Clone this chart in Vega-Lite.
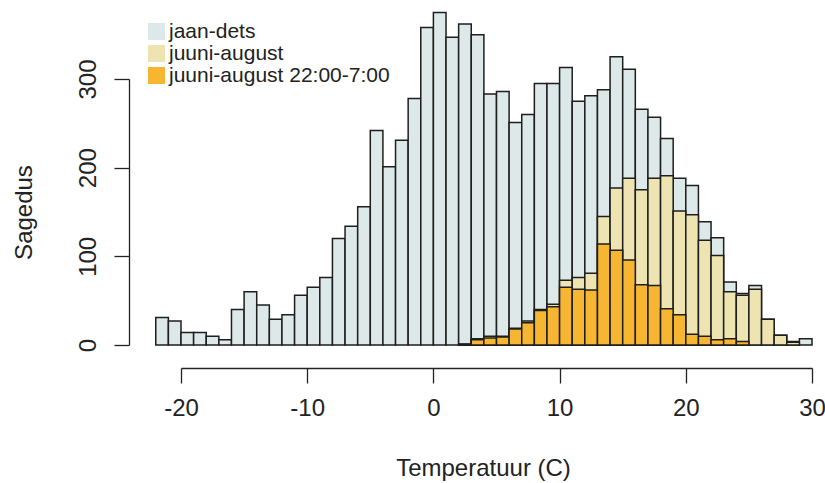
{
  "$schema": "https://vega.github.io/schema/vega-lite/v6.json",
  "width": 631,
  "height": 266,
  "autosize": "none",
  "padding": {"left": 181, "top": 79, "right": 13, "bottom": 138},
  "background": "white",
  "config": {"view": {"stroke": null}, "font": "Liberation Sans"},
  "data": {"values": [
    {"lo": -22, "hi": -21, "n": 31, "period": "jaan-dets"},
    {"lo": -21, "hi": -20, "n": 27, "period": "jaan-dets"},
    {"lo": -20, "hi": -19, "n": 14, "period": "jaan-dets"},
    {"lo": -19, "hi": -18, "n": 14, "period": "jaan-dets"},
    {"lo": -18, "hi": -17, "n": 10, "period": "jaan-dets"},
    {"lo": -17, "hi": -16, "n": 6, "period": "jaan-dets"},
    {"lo": -16, "hi": -15, "n": 40, "period": "jaan-dets"},
    {"lo": -15, "hi": -14, "n": 60, "period": "jaan-dets"},
    {"lo": -14, "hi": -13, "n": 45, "period": "jaan-dets"},
    {"lo": -13, "hi": -12, "n": 29, "period": "jaan-dets"},
    {"lo": -12, "hi": -11, "n": 34, "period": "jaan-dets"},
    {"lo": -11, "hi": -10, "n": 56, "period": "jaan-dets"},
    {"lo": -10, "hi": -9, "n": 65, "period": "jaan-dets"},
    {"lo": -9, "hi": -8, "n": 76, "period": "jaan-dets"},
    {"lo": -8, "hi": -7, "n": 120, "period": "jaan-dets"},
    {"lo": -7, "hi": -6, "n": 134, "period": "jaan-dets"},
    {"lo": -6, "hi": -5, "n": 156, "period": "jaan-dets"},
    {"lo": -5, "hi": -4, "n": 242, "period": "jaan-dets"},
    {"lo": -4, "hi": -3, "n": 201, "period": "jaan-dets"},
    {"lo": -3, "hi": -2, "n": 231, "period": "jaan-dets"},
    {"lo": -2, "hi": -1, "n": 278, "period": "jaan-dets"},
    {"lo": -1, "hi": 0, "n": 358, "period": "jaan-dets"},
    {"lo": 0, "hi": 1, "n": 375, "period": "jaan-dets"},
    {"lo": 1, "hi": 2, "n": 347, "period": "jaan-dets"},
    {"lo": 2, "hi": 3, "n": 362, "period": "jaan-dets"},
    {"lo": 3, "hi": 4, "n": 350, "period": "jaan-dets"},
    {"lo": 4, "hi": 5, "n": 283, "period": "jaan-dets"},
    {"lo": 5, "hi": 6, "n": 286, "period": "jaan-dets"},
    {"lo": 6, "hi": 7, "n": 251, "period": "jaan-dets"},
    {"lo": 7, "hi": 8, "n": 260, "period": "jaan-dets"},
    {"lo": 8, "hi": 9, "n": 295, "period": "jaan-dets"},
    {"lo": 9, "hi": 10, "n": 295, "period": "jaan-dets"},
    {"lo": 10, "hi": 11, "n": 313, "period": "jaan-dets"},
    {"lo": 11, "hi": 12, "n": 275, "period": "jaan-dets"},
    {"lo": 12, "hi": 13, "n": 281, "period": "jaan-dets"},
    {"lo": 13, "hi": 14, "n": 288, "period": "jaan-dets"},
    {"lo": 14, "hi": 15, "n": 325, "period": "jaan-dets"},
    {"lo": 15, "hi": 16, "n": 311, "period": "jaan-dets"},
    {"lo": 16, "hi": 17, "n": 266, "period": "jaan-dets"},
    {"lo": 17, "hi": 18, "n": 257, "period": "jaan-dets"},
    {"lo": 18, "hi": 19, "n": 233, "period": "jaan-dets"},
    {"lo": 19, "hi": 20, "n": 188, "period": "jaan-dets"},
    {"lo": 20, "hi": 21, "n": 180, "period": "jaan-dets"},
    {"lo": 21, "hi": 22, "n": 139, "period": "jaan-dets"},
    {"lo": 22, "hi": 23, "n": 121, "period": "jaan-dets"},
    {"lo": 23, "hi": 24, "n": 71, "period": "jaan-dets"},
    {"lo": 24, "hi": 25, "n": 58, "period": "jaan-dets"},
    {"lo": 25, "hi": 26, "n": 67, "period": "jaan-dets"},
    {"lo": 26, "hi": 27, "n": 29, "period": "jaan-dets"},
    {"lo": 27, "hi": 28, "n": 11, "period": "jaan-dets"},
    {"lo": 28, "hi": 29, "n": 4, "period": "jaan-dets"},
    {"lo": 29, "hi": 30, "n": 7, "period": "jaan-dets"},
    {"lo": 2, "hi": 3, "n": 1, "period": "juuni-august"},
    {"lo": 3, "hi": 4, "n": 7, "period": "juuni-august"},
    {"lo": 4, "hi": 5, "n": 10, "period": "juuni-august"},
    {"lo": 5, "hi": 6, "n": 10, "period": "juuni-august"},
    {"lo": 6, "hi": 7, "n": 19, "period": "juuni-august"},
    {"lo": 7, "hi": 8, "n": 27, "period": "juuni-august"},
    {"lo": 8, "hi": 9, "n": 40, "period": "juuni-august"},
    {"lo": 9, "hi": 10, "n": 46, "period": "juuni-august"},
    {"lo": 10, "hi": 11, "n": 73, "period": "juuni-august"},
    {"lo": 11, "hi": 12, "n": 76, "period": "juuni-august"},
    {"lo": 12, "hi": 13, "n": 81, "period": "juuni-august"},
    {"lo": 13, "hi": 14, "n": 145, "period": "juuni-august"},
    {"lo": 14, "hi": 15, "n": 177, "period": "juuni-august"},
    {"lo": 15, "hi": 16, "n": 188, "period": "juuni-august"},
    {"lo": 16, "hi": 17, "n": 175, "period": "juuni-august"},
    {"lo": 17, "hi": 18, "n": 188, "period": "juuni-august"},
    {"lo": 18, "hi": 19, "n": 191, "period": "juuni-august"},
    {"lo": 19, "hi": 20, "n": 151, "period": "juuni-august"},
    {"lo": 20, "hi": 21, "n": 147, "period": "juuni-august"},
    {"lo": 21, "hi": 22, "n": 118, "period": "juuni-august"},
    {"lo": 22, "hi": 23, "n": 101, "period": "juuni-august"},
    {"lo": 23, "hi": 24, "n": 60, "period": "juuni-august"},
    {"lo": 24, "hi": 25, "n": 56, "period": "juuni-august"},
    {"lo": 25, "hi": 26, "n": 63, "period": "juuni-august"},
    {"lo": 26, "hi": 27, "n": 29, "period": "juuni-august"},
    {"lo": 27, "hi": 28, "n": 11, "period": "juuni-august"},
    {"lo": 28, "hi": 29, "n": 3, "period": "juuni-august"},
    {"lo": 2, "hi": 3, "n": 1, "period": "juuni-august 22:00-7:00"},
    {"lo": 3, "hi": 4, "n": 6, "period": "juuni-august 22:00-7:00"},
    {"lo": 4, "hi": 5, "n": 8, "period": "juuni-august 22:00-7:00"},
    {"lo": 5, "hi": 6, "n": 9, "period": "juuni-august 22:00-7:00"},
    {"lo": 6, "hi": 7, "n": 18, "period": "juuni-august 22:00-7:00"},
    {"lo": 7, "hi": 8, "n": 25, "period": "juuni-august 22:00-7:00"},
    {"lo": 8, "hi": 9, "n": 39, "period": "juuni-august 22:00-7:00"},
    {"lo": 9, "hi": 10, "n": 43, "period": "juuni-august 22:00-7:00"},
    {"lo": 10, "hi": 11, "n": 65, "period": "juuni-august 22:00-7:00"},
    {"lo": 11, "hi": 12, "n": 63, "period": "juuni-august 22:00-7:00"},
    {"lo": 12, "hi": 13, "n": 62, "period": "juuni-august 22:00-7:00"},
    {"lo": 13, "hi": 14, "n": 114, "period": "juuni-august 22:00-7:00"},
    {"lo": 14, "hi": 15, "n": 107, "period": "juuni-august 22:00-7:00"},
    {"lo": 15, "hi": 16, "n": 96, "period": "juuni-august 22:00-7:00"},
    {"lo": 16, "hi": 17, "n": 68, "period": "juuni-august 22:00-7:00"},
    {"lo": 17, "hi": 18, "n": 67, "period": "juuni-august 22:00-7:00"},
    {"lo": 18, "hi": 19, "n": 41, "period": "juuni-august 22:00-7:00"},
    {"lo": 19, "hi": 20, "n": 34, "period": "juuni-august 22:00-7:00"},
    {"lo": 20, "hi": 21, "n": 12, "period": "juuni-august 22:00-7:00"},
    {"lo": 21, "hi": 22, "n": 10, "period": "juuni-august 22:00-7:00"},
    {"lo": 22, "hi": 23, "n": 6, "period": "juuni-august 22:00-7:00"},
    {"lo": 23, "hi": 24, "n": 7, "period": "juuni-august 22:00-7:00"},
    {"lo": 24, "hi": 25, "n": 4, "period": "juuni-august 22:00-7:00"}
  ]},
  "mark": {"type": "bar", "stroke": "#1e1e1e", "strokeWidth": 1.5, "clip": false, "opacity": 1},
  "encoding": {
    "x": {
      "field": "lo", "type": "quantitative",
      "scale": {"domain": [-20, 30], "nice": false, "zero": false},
      "axis": {
        "title": "Temperatuur (C)", "values": [-20, -10, 0, 10, 20, 30], "offset": 23, "grid": false,
        "domainColor": "#222", "domainWidth": 1.3, "tickColor": "#222", "tickWidth": 1.3, "tickSize": 15,
        "labelFontSize": 24, "labelColor": "#222", "labelPadding": 13, "labelFlush": false, "labelOverlap": false,
        "labelExpr": "toString(datum.value)",
        "titleFontSize": 24, "titleFontWeight": "normal", "titleColor": "#222",
        "titleX": 302, "titleY": 107, "titleBaseline": "alphabetic", "titleAlign": "center"
      }
    },
    "x2": {"field": "hi"},
    "y": {
      "field": "n", "type": "quantitative", "stack": null,
      "scale": {"domain": [0, 300], "nice": false},
      "axis": {
        "title": "Sagedus", "values": [0, 100, 200, 300], "offset": 52, "grid": false,
        "domainColor": "#222", "domainWidth": 1.3, "tickColor": "#222", "tickWidth": 1.3, "tickSize": 15,
        "labelFontSize": 24, "labelColor": "#222", "labelAngle": -90, "labelAlign": "center", "labelBaseline": "alphabetic",
        "labelPadding": 19, "labelFlush": false, "labelOverlap": false,
        "titleFontSize": 24, "titleFontWeight": "normal", "titleColor": "#222", "titleAngle": -90,
        "titleX": -98, "titleY": 133, "titleBaseline": "alphabetic", "titleAlign": "center"
      }
    },
    "y2": {"datum": 0},
    "color": {
      "field": "period", "type": "nominal",
      "scale": {"domain": ["jaan-dets", "juuni-august", "juuni-august 22:00-7:00"], "range": ["#DDE9E8", "#EEE4B2", "#F6B632"]},
      "legend": {
        "orient": "none", "legendX": -35, "legendY": -58, "title": null, "padding": 0,
        "symbolType": "square", "symbolSize": 289, "symbolStrokeWidth": 0, "symbolOpacity": 1,
        "labelFontSize": 21, "labelColor": "#222", "labelOffset": 2, "rowPadding": 0, "labelLimit": 0
      }
    }
  }
}
